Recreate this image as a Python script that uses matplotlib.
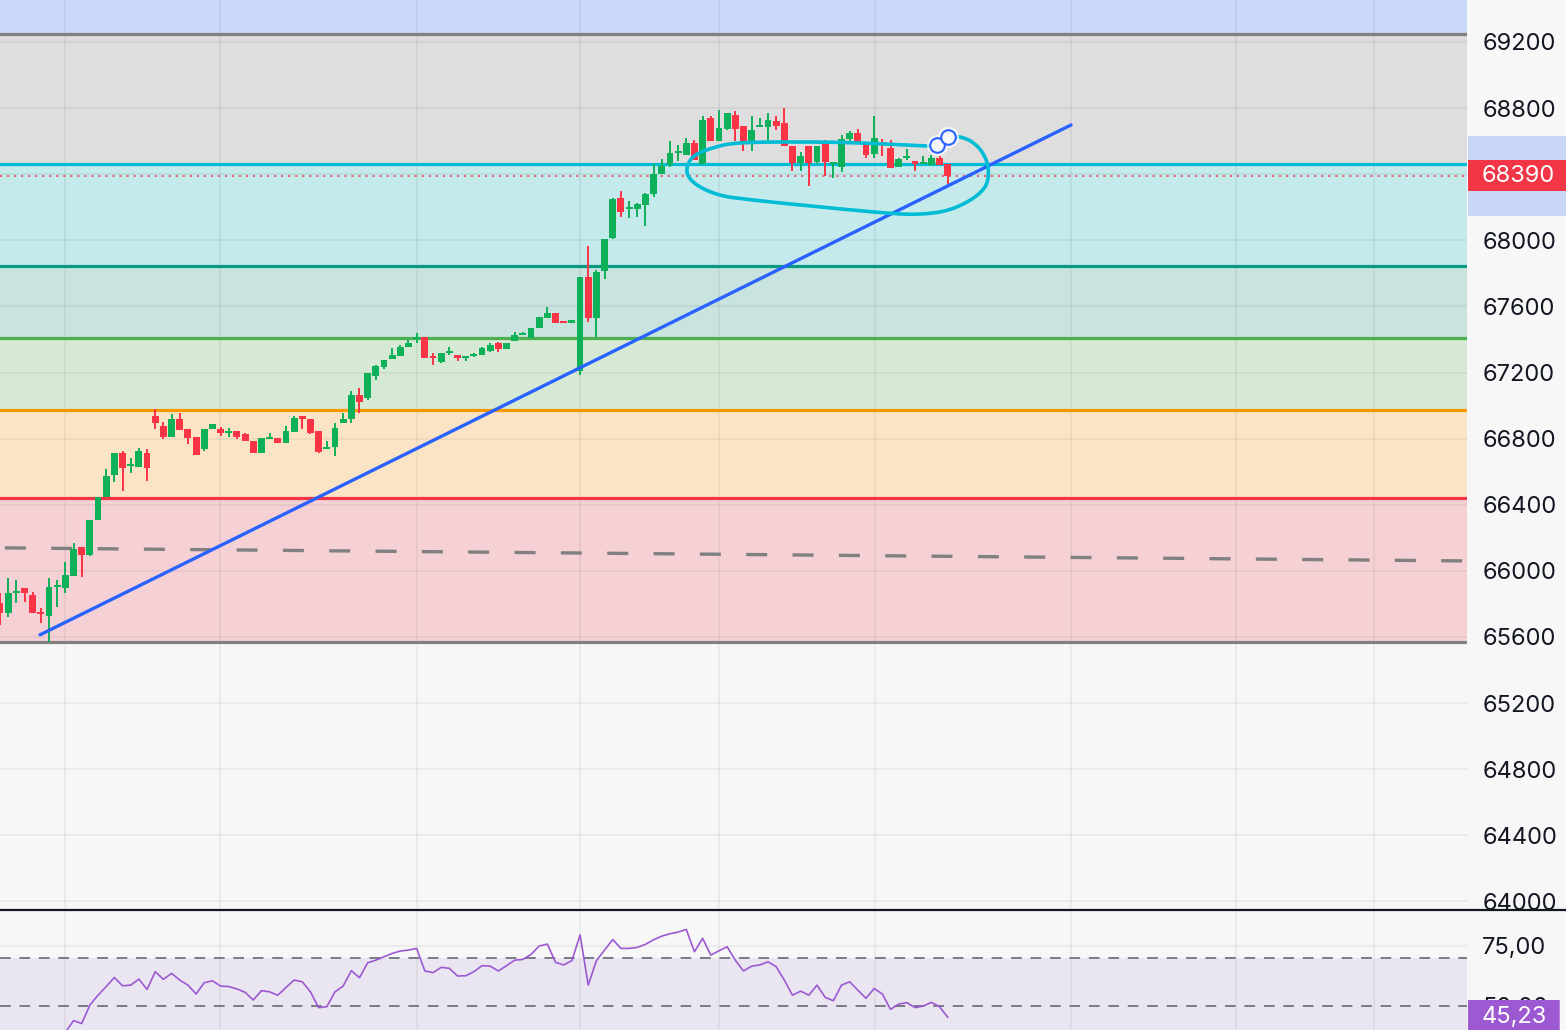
import numpy as np
import matplotlib
matplotlib.use("Agg")
import matplotlib.pyplot as plt
from matplotlib.patches import Rectangle, FancyBboxPatch
from matplotlib.transforms import blended_transform_factory

plt.rcParams['font.family'] = ['Inter', 'DejaVu Sans']

# ------------------------------ candle data -------------------------------- #
opens = [65806, 65745, 65866, 65897, 65854, 65745, 65727, 65903, 65897, 65969,
         66145, 66096, 66308, 66447, 66580, 66713, 66635, 66629, 66713, 66937,
         66877, 66810, 66919, 66859, 66810, 66738, 66859, 66859, 66835, 66847,
         66829, 66786, 66713, 66798, 66804, 66774, 66841, 66937, 66919, 66847,
         66738, 66750, 66895, 66919, 67064, 67046, 67179, 67234, 67282, 67300,
         67355, 67403, 67415, 67294, 67264, 67318, 67306, 67288, 67300, 67306,
         67330, 67379, 67343, 67391, 67427, 67409, 67470, 67530, 67560, 67506,
         67500, 67210, 67778, 67530, 67814, 68014, 68256, 68189, 68189, 68214,
         68280, 68401, 68456, 68528, 68516, 68589, 68462, 68740, 68601, 68674,
         68758, 68692, 68589, 68686, 68686, 68722, 68710, 68571, 68468, 68571,
         68474, 68601, 68462, 68444, 68613, 68649, 68595, 68522, 68589, 68559,
         68444, 68498, 68480, 68462, 68456, 68498, 68462]
highs = [65866, 65957, 65945, 65897, 65872, 65776, 65957, 65945, 66054, 66169,
         66145, 66308, 66447, 66617, 66713, 66726, 66683, 66744, 66738, 66980,
         66901, 66949, 66955, 66859, 66810, 66859, 66889, 66871, 66865, 66847,
         66835, 66786, 66804, 66835, 66804, 66877, 66937, 66937, 66919, 66847,
         66786, 66895, 66955, 67089, 67107, 67197, 67246, 67276, 67349, 67367,
         67397, 67440, 67415, 67318, 67318, 67355, 67306, 67300, 67318, 67355,
         67379, 67385, 67379, 67445, 67445, 67470, 67536, 67597, 67560, 67506,
         67518, 67778, 67966, 67820, 68008, 68256, 68298, 68238, 68226, 68286,
         68462, 68492, 68601, 68577, 68619, 68607, 68752, 68752, 68789, 68771,
         68783, 68692, 68752, 68740, 68771, 68752, 68801, 68571, 68535, 68571,
         68571, 68607, 68474, 68637, 68662, 68674, 68595, 68752, 68613, 68607,
         68498, 68553, 68480, 68510, 68516, 68510, 68462]
lows = [65673, 65721, 65806, 65812, 65745, 65685, 65570, 65782, 65866, 65969,
        65963, 66090, 66308, 66447, 66538, 66484, 66593, 66629, 66544, 66859,
        66798, 66810, 66853, 66768, 66701, 66726, 66859, 66816, 66810, 66798,
        66786, 66713, 66713, 66798, 66774, 66774, 66841, 66859, 66829, 66713,
        66738, 66696, 66895, 66895, 66955, 67034, 67155, 67222, 67282, 67300,
        67355, 67379, 67288, 67246, 67258, 67306, 67270, 67270, 67294, 67306,
        67324, 67324, 67343, 67391, 67427, 67409, 67470, 67530, 67500, 67500,
        67500, 67185, 67506, 67415, 67766, 68008, 68141, 68135, 68141, 68087,
        68262, 68401, 68444, 68480, 68516, 68486, 68462, 68601, 68601, 68668,
        68601, 68541, 68541, 68686, 68595, 68668, 68571, 68420, 68420, 68329,
        68462, 68389, 68377, 68414, 68595, 68589, 68498, 68498, 68510, 68438,
        68444, 68486, 68420, 68462, 68456, 68456, 68329]
closes = [65745, 65866, 65878, 65866, 65745, 65739, 65903, 65915, 65975, 66133,
          66096, 66308, 66447, 66574, 66713, 66623, 66641, 66726, 66623, 66895,
          66810, 66919, 66853, 66804, 66701, 66859, 66889, 66835, 66841, 66810,
          66786, 66713, 66804, 66810, 66774, 66847, 66925, 66919, 66835, 66720,
          66744, 66865, 66919, 67064, 67022, 67197, 67240, 67276, 67306, 67355,
          67379, 67409, 67288, 67288, 67318, 67330, 67288, 67294, 67312, 67349,
          67367, 67343, 67379, 67427, 67433, 67470, 67536, 67560, 67500, 67500,
          67518, 67778, 67530, 67808, 68008, 68250, 68171, 68195, 68220, 68280,
          68401, 68450, 68528, 68534, 68589, 68486, 68728, 68601, 68680, 68771,
          68674, 68589, 68668, 68698, 68728, 68692, 68571, 68468, 68510, 68468,
          68571, 68474, 68474, 68613, 68649, 68589, 68516, 68619, 68583, 68438,
          68492, 68504, 68462, 68474, 68498, 68456, 68390]

# RSI, one value per candle starting at candle 8
rsi_start = 8
rsi = [39.0, 43.8, 42.6, 50.3, 54.4, 58.0, 61.8, 58.3, 58.6, 61.1,
       56.8, 64.2, 61.0, 63.5, 60.7, 58.6, 54.9, 59.6, 60.4, 58.2,
       58.0, 57.0, 55.6, 52.4, 56.3, 55.8, 54.4, 57.6, 60.7, 60.0,
       55.8, 49.2, 49.6, 55.8, 58.2, 64.6, 61.7, 67.9, 69.0, 70.4,
       71.8, 72.8, 73.2, 73.9, 64.5, 63.8, 66.0, 65.6, 62.4, 62.5,
       64.2, 66.7, 66.5, 64.5, 66.7, 69.0, 69.3, 71.4, 74.9, 75.7,
       68.1, 67.0, 68.8, 79.5, 58.6, 68.8, 73.2, 77.6, 73.9, 73.9,
       74.3, 75.6, 77.5, 79.0, 80.0, 80.7, 81.8, 72.5, 78.1, 71.1,
       72.9, 74.6, 69.0, 64.5, 66.5, 67.0, 68.3, 66.3, 60.7, 54.4,
       56.1, 54.4, 58.6, 53.5, 52.1, 58.6, 60.0, 56.5, 53.1, 57.2,
       54.9, 48.5, 50.7, 51.3, 49.2, 49.9, 51.4, 49.6, 45.23]

# fib retracement levels (low -> high) and the zone colours above each level
fib_levels = [65570, 66438, 66976, 67410, 67844, 68462, 69250]
fib_line_colors = ['#808080', '#f23645', '#ff9800', '#4caf50', '#089981', '#00bcd4', '#808080']
fib_zone_colors = ['#f5d0d4', '#fbe4c6', '#d5e9d5', '#c9e3de', '#c4eaec', '#dedede', '#c9d8f8']

price_ticks = [64000, 64400, 64800, 65200, 65600, 66000, 66400, 66800,
               67200, 67600, 68000, 68400, 68800, 69200]
rsi_ticks = [75, 50]
rsi_tick_labels = ['75,00', '50,00']
time_grid = [7.96, 26.93, 51.04, 70.99, 88.0, 107.1, 131.1, 151.3, 168.2]
last_price = 68390

# drawings
trend_x, trend_p = [4.9, 131.1], [65613, 68698]
dash_x, dash_p = [0.6, 179.6], [66139, 66060]
loop_x = [116.03, 117.50, 118.97, 120.20, 120.93, 120.69, 118.97, 116.03, 112.61,
          108.57, 100.37, 92.17, 88.13, 85.31, 84.09, 84.82, 87.27, 90.58, 97.92,
          105.26, 113.46, 114.69]
loop_p = [68625, 68625, 68595, 68534, 68444, 68335, 68250, 68183, 68159, 68165,
          68202, 68244, 68274, 68335, 68413, 68504, 68559, 68589, 68595, 68589,
          68571, 68577]
handle_x, handle_p = [114.69, 116.03], [68577, 68625]

GREEN, RED = '#0fb05a', '#fb3446'
BG = '#f7f7f7'
FS = 17


def smooth(xs, ys, n=10):
    # catmull-rom through the hand-drawn loop's anchor points
    pts = np.column_stack([xs, ys]).astype(float)
    pts = np.vstack([pts[0], pts, pts[-1]])
    out = []
    for k in range(1, len(pts) - 2):
        p0, p1, p2, p3 = pts[k - 1], pts[k], pts[k + 1], pts[k + 2]
        for t in np.linspace(0, 1, n, endpoint=False):
            out.append(0.5 * (2 * p1 + (-p0 + p2) * t + (2 * p0 - 5 * p1 + 4 * p2 - p3) * t ** 2
                              + (-p0 + 3 * p1 - 3 * p2 + p3) * t ** 3))
    out.append(pts[-2])
    return np.array(out)


# ---------------------------- figure and axes ------------------------------ #
fig = plt.figure(figsize=(15.66, 10.30), dpi=100, facecolor=BG)
ax = fig.add_axes([0, 120 / 1030, 1467 / 1566, 910 / 1030], facecolor=BG)
rax = fig.add_axes([0, 0, 1467 / 1566, 120 / 1030], facecolor=BG)
rax.set_zorder(3)

n = len(opens)
idx = np.arange(n)
o, h, l, c = map(np.array, (opens, highs, lows, closes))

ax.set_xlim(0, 179.56)
ax.set_ylim(63948, 69454)

# --------------------------- fib zones & lines ----------------------------- #
tops = fib_levels[1:] + [70000]
for lo, hi, col in zip(fib_levels, tops, fib_zone_colors):
    ax.axhspan(lo, hi, color=col, lw=0, zorder=0)

# grid
for p in price_ticks:
    ax.axhline(p, color='k', alpha=0.05, lw=1.3, zorder=1)
for t in time_grid:
    ax.axvline(t, color='k', alpha=0.05, lw=1.3, zorder=1)

for lvl, col in zip(fib_levels, fib_line_colors):
    ax.axhline(lvl, color=col, lw=2.3, zorder=2)

ax.plot(dash_x, dash_p, color='#808080', lw=2.4, dashes=(6.3, 7.6), zorder=2)

# -------------------------------- candles ---------------------------------- #
cols = np.where(c >= o, GREEN, RED)
bottom = np.minimum(o, c)
height = np.maximum(np.abs(c - o), 10)
ax.vlines(idx, l, h, colors=cols, lw=1.4, zorder=3)
ax.bar(idx, height, bottom=bottom, width=0.84, color=cols, lw=0, zorder=4)

ax.axhline(last_price, color='#f23645', lw=1.1, ls=(0, (1.4, 3.2)), zorder=3)

# ------------------------------- drawings ---------------------------------- #
ax.plot(trend_x, trend_p, color='#2962ff', lw=2.4, solid_capstyle='round', zorder=5)
loop = smooth(loop_x, loop_p)
ax.plot(loop[:, 0], loop[:, 1], color='#00bcd4', lw=2.6, solid_capstyle='round', zorder=6)
ax.scatter(handle_x, handle_p, s=230, color='white', alpha=0.7, lw=0, zorder=7)
ax.scatter(handle_x, handle_p, s=110, facecolor='#f6f7fb', edgecolor='#2962ff', lw=1.5, zorder=8)

# ------------------------------ price scale -------------------------------- #
for s in ax.spines.values():
    s.set_visible(False)
ax.set_xticks([])
ax.yaxis.tick_right()
ax.set_yticks(price_ticks)
ax.set_yticklabels([str(p) for p in price_ticks])
ax.tick_params(axis='y', length=0, pad=11, labelsize=FS, labelcolor='#131722')

tr = blended_transform_factory(ax.transAxes, ax.transData)
ax.add_patch(Rectangle((1.0007, last_price - 242), 0.068, 484, transform=tr,
                       color='#c9d7f7', lw=0, clip_on=False, zorder=9))
ax.add_patch(Rectangle((1.0007, last_price - 94), 0.068, 188, transform=tr,
                       color='#f23645', lw=0, clip_on=False, zorder=10))
ax.text(1.0103, last_price, str(last_price), transform=tr, color='white',
        fontsize=FS, va='center', ha='left', zorder=11)

# the price scale is cut off below the pane separator
fig.add_artist(Rectangle((1467 / 1566, 0), 99 / 1566, 120 / 1030, transform=fig.transFigure,
                         color=BG, lw=0, zorder=2))

# ---------------------------------- RSI ------------------------------------ #
rax.set_xlim(0, 179.56)
rax.set_ylim(39.9, 89.9)
rax.axhspan(30, 70, color='#7e57c2', alpha=0.1, lw=0, zorder=0)
rax.axhline(75, color='k', alpha=0.05, lw=1.3, zorder=1)
for t in time_grid:
    rax.axvline(t, color='k', alpha=0.05, lw=1.3, zorder=1)
for lvl in (70, 50):
    rax.axhline(lvl, color='#787b86', lw=1.4, dashes=(5.5, 4.5), zorder=2)
rsi_x = np.arange(rsi_start, rsi_start + len(rsi))
rax.plot(rsi_x, rsi, color='#9c59d1', lw=1.2, zorder=3)

for s in rax.spines.values():
    s.set_visible(False)
rax.set_xticks([])
rax.yaxis.tick_right()
rax.set_yticks(rsi_ticks)
rax.set_yticklabels(rsi_tick_labels)
rax.tick_params(axis='y', length=0, pad=11, labelsize=FS, labelcolor='#131722')
for lab in rax.get_yticklabels():
    lab.set_y(lab.get_position()[1] + 1.2)

rtr = blended_transform_factory(rax.transAxes, rax.transData)
rax.add_patch(FancyBboxPatch((1.0007, 36), 0.0625, 52.4 - 36, transform=rtr,
                             boxstyle='round,pad=0,rounding_size=0.004',
                             color='#9c59d1', lw=0, clip_on=False, zorder=9,
                             mutation_aspect=12))
rax.text(1.0103, rsi[-1], '{:.2f}'.format(rsi[-1]).replace('.', ','), transform=rtr,
         color='white', fontsize=FS, va='center', ha='left', zorder=10)

# pane separator
fig.add_artist(plt.Line2D([0, 1], [120 / 1030, 120 / 1030], transform=fig.transFigure,
                          color='#131722', lw=1.6, zorder=4))

fig.savefig('out.png', dpi=100, facecolor=BG)
